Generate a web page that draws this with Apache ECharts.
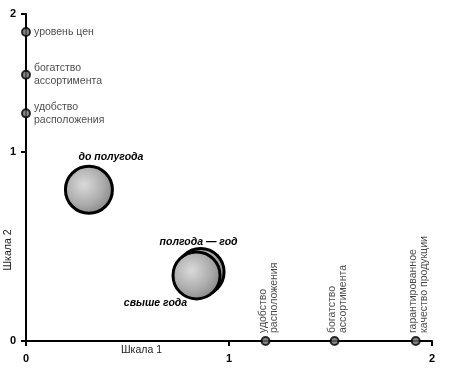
<!DOCTYPE html>
<html><head><meta charset="utf-8">
<script src="https://cdn.jsdelivr.net/npm/echarts@6/dist/echarts.min.js"></script>
<style>html,body{margin:0;padding:0;background:#fff}#c{width:450px;height:375px}</style>
</head><body><div id="c"></div>
<script>
// ---- data ----
const xTicks = [0, 1, 2];
const yTicks = [0, 1, 2];
const yAxisItems = ['уровень цен', 'богатство\nассортимента', 'удобство\nрасположения'];
const yAxisItemValues = [1.87, 1.56, 1.28];
const xAxisItems = ['удобство\nрасположения', 'богатство\nассортимента', 'гарантированное\nкачество продукции'];
const xAxisItemValues = [1.18, 1.52, 1.92];
const groups = ['до полугода', 'полгода — год', 'свыше года'];
const groupX = [0.31, 0.86, 0.84];
const groupY = [0.80, 0.365, 0.347];
const axisNames = ['Шкала 1', 'Шкала 2'];

const FONT = "'Liberation Sans', Arial, sans-serif";
const chart = echarts.init(document.getElementById('c'));

const axisLine = {show: true, lineStyle: {color: '#000', width: 2}};
const axisTick = {show: true, inside: false, length: 5, lineStyle: {color: '#000', width: 2}};
const tickLabel = {color: '#000', fontWeight: 'bold', fontSize: 11, fontFamily: FONT};

const bubbleLabels = [
  {position: 'top', distance: 2, offset: [22, 0]},
  {position: 'top', distance: 2, offset: [-2, 3]},
  {position: 'bottom', distance: 0, offset: [-41, -3]}
];

const option = {
  animation: false,
  grid: [
    {left: 26, right: 18, top: 152, bottom: 34},
    {left: 26, right: 18, top: 14, bottom: 223}
  ],
  xAxis: [
    {gridIndex: 0, type: 'value', min: xTicks[0], max: xTicks[2], interval: 1,
     axisLine, axisTick, splitLine: {show: false},
     axisLabel: Object.assign({margin: 12}, tickLabel)},
    {gridIndex: 1, type: 'value', min: xTicks[0], max: xTicks[2], show: false}
  ],
  yAxis: [
    {gridIndex: 0, type: 'value', min: yTicks[0], max: yTicks[1], interval: 1,
     axisLine, axisTick, splitLine: {show: false},
     axisLabel: Object.assign({margin: 10}, tickLabel)},
    {gridIndex: 1, type: 'value', min: yTicks[1], max: yTicks[2], interval: 1,
     axisLine, axisTick, splitLine: {show: false},
     axisLabel: Object.assign({margin: 10, showMinLabel: false}, tickLabel)}
  ],
  graphic: [
    {type: 'text', left: 121, top: 345, style: {text: axisNames[0], fill: '#222', font: '10.5px ' + FONT}},
    {type: 'text', x: 3, y: 250, rotation: Math.PI / 2,
     style: {text: axisNames[1], fill: '#222', font: '10.5px ' + FONT, textAlign: 'center', textVerticalAlign: 'top'}}
  ],
  series: [
    {
      type: 'scatter', xAxisIndex: 1, yAxisIndex: 1,
      symbol: 'circle', symbolSize: 8,
      itemStyle: {color: '#6a6a6a', borderColor: '#000', borderWidth: 2},
      label: {show: true, position: 'right', distance: 3, formatter: p => p.name,
        color: '#1a1a1a', fontSize: 10.5, lineHeight: 13, fontFamily: FONT, align: 'left', verticalAlign: 'middle'},
      data: yAxisItems.map((n, i) => ({name: n, value: [0, yAxisItemValues[i]]})),
      z: 5
    },
    {
      type: 'scatter', xAxisIndex: 0, yAxisIndex: 0,
      symbol: 'circle', symbolSize: 8,
      itemStyle: {color: '#6a6a6a', borderColor: '#000', borderWidth: 2},
      label: {show: true, position: 'top', distance: 3, rotate: 90, formatter: p => p.name,
        color: '#1a1a1a', fontSize: 10.5, lineHeight: 11, fontFamily: FONT, align: 'left', verticalAlign: 'middle',
        offset: [0, 3]},
      data: xAxisItems.map((n, i) => ({name: n, value: [xAxisItemValues[i], 0]})),
      z: 5
    },
    {
      type: 'scatter', xAxisIndex: 0, yAxisIndex: 0,
      symbol: 'circle', symbolSize: 47,
      itemStyle: {
        color: {type: 'radial', x: 0.4, y: 0.4, r: 0.65,
          colorStops: [{offset: 0, color: '#dadada'}, {offset: 0.6, color: '#acacac'}, {offset: 1, color: '#838383'}]},
        borderColor: '#000', borderWidth: 3, opacity: 1
      },
      label: {show: true, formatter: p => p.name, color: '#000', fontSize: 10.5,
        fontWeight: 'bold', fontStyle: 'italic', fontFamily: FONT},
      data: groups.map((n, i) => ({name: n, value: [groupX[i], groupY[i]], label: bubbleLabels[i]})),
      z: 4
    }
  ]
};
chart.setOption(option);
</script>
</body></html>
